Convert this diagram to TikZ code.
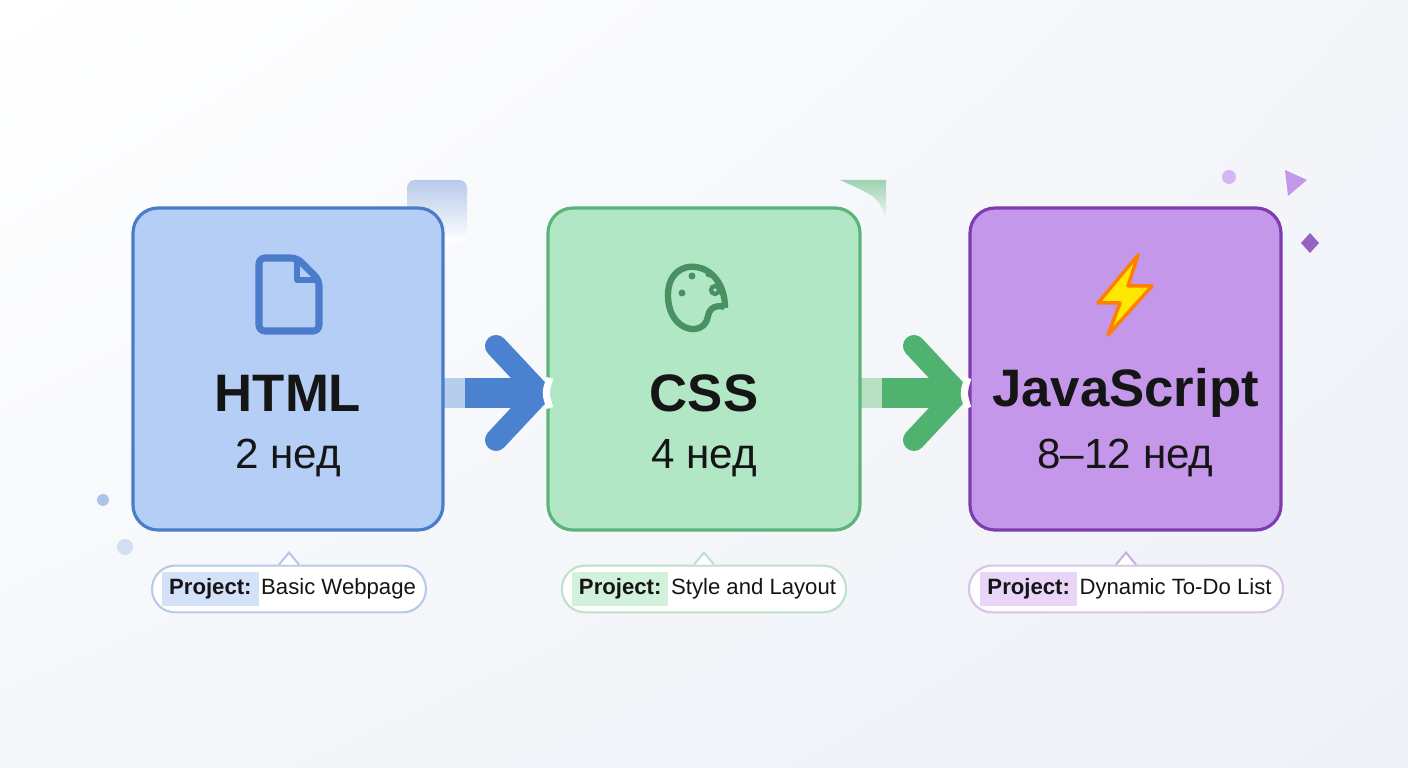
\documentclass[tikz,border=0pt]{standalone}
\usepackage{fontspec}
\setmainfont{Liberation Sans}
\usetikzlibrary{positioning,shapes.geometric,shadings}
\definecolor{htmlfill}{HTML}{B5CEF5}
\definecolor{htmldraw}{HTML}{4A7CC9}
\definecolor{cssfill}{HTML}{B2E7C6}
\definecolor{cssdraw}{HTML}{5BB57A}
\definecolor{jsfill}{HTML}{C597EA}
\definecolor{jsdraw}{HTML}{7E3CB0}
\definecolor{htmlarrow}{HTML}{4A82D0}
\definecolor{cssarrow}{HTML}{4FB26E}
\definecolor{ink}{HTML}{151515}
\definecolor{bgtint}{HTML}{EEF1F7}
\setlength{\fboxsep}{2pt}
\tikzset{
  stage/.style={rounded corners=0.25cm, line width=0.9pt, minimum height=3.22cm, align=center, text=ink},
  pill/.style={rounded corners=0.23cm, minimum height=0.46cm, fill=white, line width=0.6pt, font=\fontsize{6.3}{7}\selectfont, text=ink, inner xsep=0.1cm, inner ysep=0.06cm},
  shaft/.style={line width=0.3cm},
  chevron/.style={line width=0.22cm, line cap=round, line join=round},
}
\begin{document}
\begin{tikzpicture}
  \useasboundingbox (0,0) rectangle (14.08,7.68);
  \shade[upper left=white, lower left=bgtint!60, upper right=bgtint!70, lower right=bgtint] (0,0) rectangle (14.08,7.68);

  % Decorations
  \shade[rounded corners=0.08cm, top color=htmldraw!40, bottom color=white] (4.07,5.26) rectangle (4.67,5.88);
  \shade[top color=cssdraw!60, bottom color=white] (8.40,5.88) -- (8.86,5.88) -- (8.86,5.43) .. controls (8.8,5.7) .. (8.40,5.88);
  \fill[htmldraw!45] (1.03,2.68) circle (0.06);
  \fill[htmldraw!25] (1.25,2.21) circle (0.08);
  \fill[jsfill!70] (12.29,5.91) circle (0.07);
  \fill[jsfill] (12.85,5.98) -- (13.07,5.88) -- (12.88,5.72) -- cycle;
  \fill[jsdraw!80] (13.10,5.35) -- (13.19,5.25) -- (13.10,5.15) -- (13.01,5.25) -- cycle;

  % Arrows (drawn before boxes)
  \coordinate (a1) at (4.43,3.75);
  \coordinate (a2) at (8.60,3.75);
  \draw[shaft, htmlarrow] (a1) -- ++(0.85,0);
  \draw[shaft, htmlarrow!40] (a1) -- ++(0.22,0);
  \draw[chevron, htmlarrow] (4.96,4.22) -- (5.40,3.75) -- (4.96,3.28);
  \draw[shaft, cssarrow] (a2) -- ++(0.85,0);
  \draw[shaft, cssarrow!40] (a2) -- ++(0.22,0);
  \draw[chevron, cssarrow] (9.14,4.22) -- (9.58,3.75) -- (9.14,3.28);

  % Boxes
  \node[stage, fill=htmlfill, draw=htmldraw, minimum width=3.10cm] (html) at (2.88,3.99) {};
  \node[stage, fill=cssfill, draw=cssdraw, minimum width=3.12cm] (css) at (7.04,3.99) {};
  \node[stage, fill=jsfill, draw=jsdraw, minimum width=3.11cm] (js) at (11.255,3.99) {};
  \draw[white, line width=2pt] (5.50,3.60) .. controls (5.45,3.75) .. (5.50,3.90);
  \draw[white, line width=2pt] (9.68,3.60) .. controls (9.63,3.75) .. (9.68,3.90);

  % Titles
  \foreach \n/\t/\d in {html/HTML/2 нед, css/CSS/4 нед, js/JavaScript/8–12 нед} {
    \node[font=\bfseries\fontsize{15}{18}\selectfont, text=ink] (\n-t) at ([yshift=-0.24cm]\n.center) {\t};
    \node[font=\fontsize{12}{14}\selectfont, text=ink] (\n-d) at ([yshift=-0.89cm]\n.center) {\d};
  }

  % Icons
  \draw[htmldraw, line width=2pt, rounded corners=0.06cm] (2.59,5.10) -- (2.59,4.37) -- (3.19,4.37) -- (3.19,4.88) -- (2.97,5.10) -- cycle;
  \draw[htmldraw, line width=1.5pt, line join=round] (2.97,5.10) -- (2.97,4.88) -- (3.19,4.88);
  \draw[cssdraw!80!black, line width=1.8pt] (7.25,4.60) .. controls (7.25,5.10) and (6.68,5.15) .. (6.68,4.73)
     .. controls (6.68,4.35) and (7.05,4.30) .. (7.08,4.52) .. controls (7.10,4.65) and (7.25,4.62) .. (7.25,4.60);
  \foreach \p in {(6.82,4.75),(6.92,4.92),(7.09,4.94)} \fill[cssdraw!80!black] \p circle (0.035);
  \draw[cssdraw!80!black, line width=1.2pt] (7.15,4.78) circle (0.04);
  \fill[yellow!90!orange, draw=orange, line width=1pt, line join=round] (11.38,5.13) -- (10.98,4.65) -- (11.20,4.65) -- (11.08,4.33) -- (11.52,4.82) -- (11.28,4.82) -- cycle;

  % Project labels
  \node[pill, draw=htmldraw!40, minimum width=2.72cm] (html-p) at (2.89,1.79) {\colorbox{htmlfill!60}{\bfseries Project:}\hspace{-1pt} Basic Webpage};
  \node[pill, draw=cssdraw!40, minimum width=2.84cm] (css-p) at (7.04,1.79) {\colorbox{cssfill!60}{\bfseries Project:}\hspace{-1pt} Style and Layout};
  \node[pill, draw=jsdraw!30, minimum width=3.14cm] (js-p) at (11.26,1.79) {\colorbox{jsfill!40}{\bfseries Project:}\hspace{-1pt} Dynamic To-Do List};
  \foreach \n/\c in {html/htmldraw, css/cssdraw, js/jsdraw}
    \draw[\c!40, fill=white, line width=0.6pt] ([xshift=-0.1cm]\n-p.north) -- ([yshift=0.12cm]\n-p.north) -- ([xshift=0.1cm]\n-p.north);
\end{tikzpicture}
\end{document}
